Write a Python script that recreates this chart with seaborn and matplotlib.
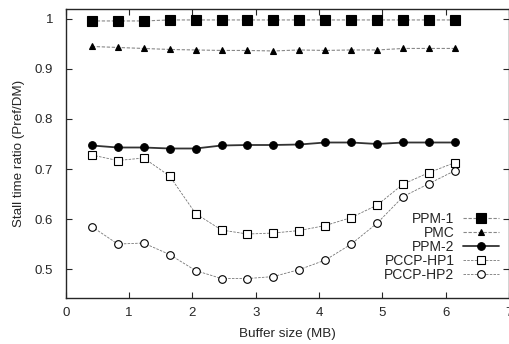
import matplotlib
matplotlib.use("Agg")
import matplotlib.pyplot as plt
import seaborn as sns
import pandas as pd

buffer_mb = [0.41, 0.82, 1.23, 1.64, 2.05, 2.46, 2.87, 3.28, 3.69, 4.10, 4.51, 4.92, 5.33, 5.74, 6.15]
ppm1 = [0.996, 0.996, 0.996, 0.998, 0.998, 0.998, 0.998, 0.998, 0.998, 0.998, 0.998, 0.998, 0.998, 0.998, 0.998]
pmc = [0.945, 0.943, 0.941, 0.939, 0.938, 0.937, 0.937, 0.936, 0.938, 0.937, 0.938, 0.938, 0.941, 0.941, 0.941]
ppm2 = [0.747, 0.743, 0.743, 0.741, 0.741, 0.747, 0.748, 0.748, 0.749, 0.753, 0.753, 0.750, 0.753, 0.753, 0.753]
hp1 = [0.728, 0.717, 0.722, 0.686, 0.611, 0.578, 0.570, 0.572, 0.577, 0.587, 0.603, 0.628, 0.670, 0.693, 0.713]
hp2 = [0.585, 0.550, 0.552, 0.529, 0.497, 0.481, 0.481, 0.485, 0.499, 0.518, 0.550, 0.592, 0.645, 0.671, 0.697]

series_names = ["PPM-1", "PMC", "PPM-2", "PCCP-HP1", "PCCP-HP2"]
series_vals = [ppm1, pmc, ppm2, hp1, hp2]

sns.set_style("ticks")
plt.rcParams["font.family"] = ["Liberation Sans", "DejaVu Sans"]

fig = plt.figure(figsize=(5.10, 3.44), dpi=100)
ax = fig.add_axes([0.129, 0.135, 0.869, 0.839])

styles = {
    "PPM-1": dict(marker="s", ms=6.5, mfc="black", mec="black", ls=(0, (3, 1.5)), lw=0.8, color="#888888"),
    "PMC": dict(marker="^", ms=5, mfc="black", mec="black", ls=(0, (3, 1.5)), lw=0.8, color="#888888"),
    "PPM-2": dict(marker="o", ms=5.5, mfc="black", mec="black", ls="-", lw=1.3, color="#333333"),
    "PCCP-HP1": dict(marker="s", ms=5.5, mfc="white", mec="black", mew=0.8, ls=(0, (3, 1.5)), lw=0.6, color="#777777"),
    "PCCP-HP2": dict(marker="o", ms=5.5, mfc="white", mec="black", mew=0.8, ls=(0, (3, 1.5)), lw=0.6, color="#777777"),
}

for name, vals in zip(series_names, series_vals):
    df = pd.DataFrame({"x": buffer_mb, "y": vals})
    st = styles[name]
    sns.lineplot(data=df, x="x", y="y", ax=ax, label=name,
                 marker=st["marker"], markersize=st["ms"], markerfacecolor=st["mfc"],
                 markeredgecolor=st["mec"], markeredgewidth=st.get("mew", 0.8),
                 linestyle=st["ls"], linewidth=st["lw"], color=st["color"])

ax.set_xlim(0, 7)
ax.set_ylim(0.443, 1.02)
ax.set_xticks([0, 1, 2, 3, 4, 5, 6, 7])
ax.set_yticks([0.5, 0.6, 0.7, 0.8, 0.9, 1.0])
ax.set_yticklabels(["0.5", "0.6", "0.7", "0.8", "0.9", "1"])
ax.tick_params(direction="in", top=True, right=True, length=4, width=0.8, labelsize=9.5)
ax.tick_params(axis="x", pad=7)
ax.tick_params(axis="y", pad=9)
for s in ax.spines.values():
    s.set_linewidth(1.0)
    s.set_visible(True)
ax.set_xlabel("Buffer size (MB)", fontsize=9.7, labelpad=6)
ax.set_ylabel("Stall time ratio (Pref/DM)", fontsize=9.6, labelpad=7)

leg = ax.legend(loc="lower right", bbox_to_anchor=(0.993, 0.03), frameon=False,
                markerfirst=False, fontsize=10, handlelength=2.6, handletextpad=0.6,
                labelspacing=0.0, borderpad=0)

fig.savefig("out.png", dpi=100)
